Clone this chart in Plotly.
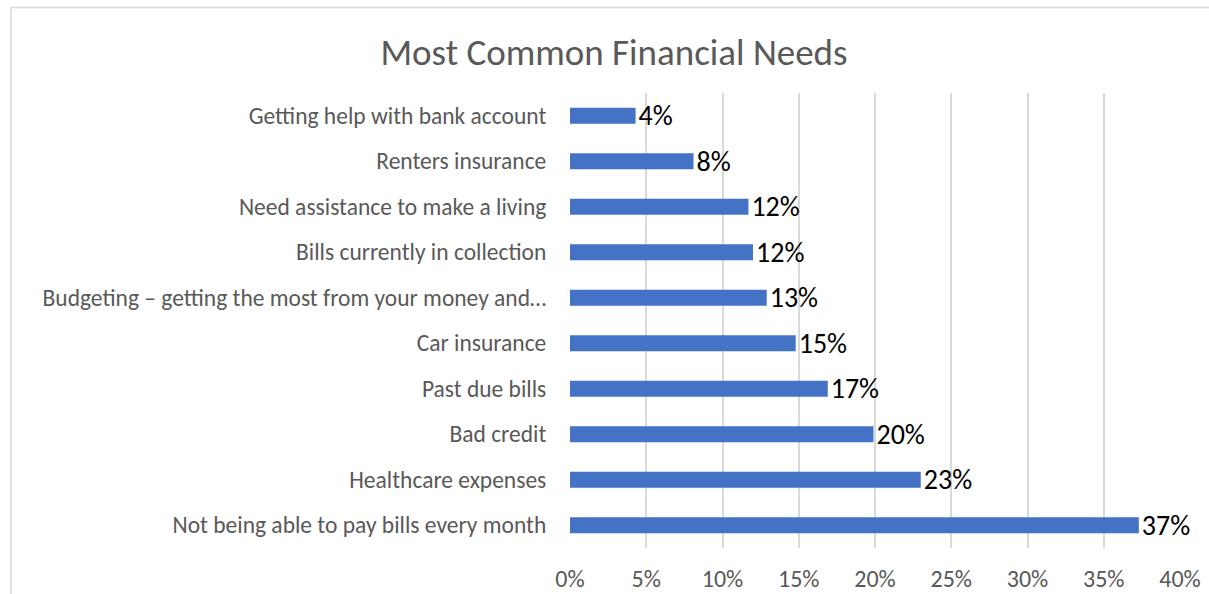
import plotly.graph_objects as go

# Survey results: share of respondents naming each financial need
categories = [
    "Not being able to pay bills every month",
    "Healthcare expenses",
    "Bad credit",
    "Past due bills",
    "Car insurance",
    "Budgeting – getting the most from your money and…",
    "Bills currently in collection",
    "Need assistance to make a living",
    "Renters insurance",
    "Getting help with bank account",
]
shares = [0.373, 0.230, 0.199, 0.169, 0.148, 0.129, 0.120, 0.117, 0.081, 0.043]

tick_vals = [0, 0.05, 0.10, 0.15, 0.20, 0.25, 0.30, 0.35, 0.40]
tick_text = ["0%", "5%", "10%", "15%", "20%", "25%", "30%", "35%", "40%"]

W, H = 1209, 594
ML, MR, MT, MB = 570, 29, 93, 46
PW, PH = W - ML - MR, H - MT - MB

def px_x(x):
    return (x - ML) / PW

def px_y(y):
    return (H - MB - y) / PH

FONT = "Carlito, Lato, Calibri, sans-serif"
GREY = "#595959"

fig = go.Figure(
    go.Bar(
        x=shares,
        y=categories,
        orientation="h",
        marker=dict(color="#4472C4", line=dict(width=0)),
        texttemplate="%{x:.0%}",
        textposition="outside",
        constraintext="none",
        textfont=dict(family=FONT, size=28, color="#000000"),
        cliponaxis=False,
    )
)

fig.update_layout(
    width=W,
    height=H,
    margin=dict(l=ML, r=MR, t=MT, b=MB, autoexpand=False),
    paper_bgcolor="white",
    plot_bgcolor="white",
    bargap=0.65,
    showlegend=False,
    title=dict(
        text="Most Common Financial Needs",
        x=px_x(614), xref="paper", xanchor="center",
        y=1 - 52 / H, yanchor="middle",
        font=dict(family=FONT, size=37, color=GREY),
    ),
    xaxis=dict(
        range=[0, 0.40],
        tickvals=tick_vals,
        ticktext=tick_text,
        showgrid=True,
        gridcolor="#d9d9d9",
        gridwidth=1.5,
        zeroline=False,
        showline=False,
        ticks="outside",
        ticklen=9,
        tickcolor="rgba(0,0,0,0)",
        tickfont=dict(family=FONT, size=24, color=GREY),
        automargin=False,
    ),
    yaxis=dict(
        categoryorder="array",
        categoryarray=categories,
        showgrid=False,
        zeroline=False,
        showline=False,
        ticks="outside",
        ticklen=18,
        tickcolor="rgba(0,0,0,0)",
        tickfont=dict(family=FONT, size=23.5, color=GREY),
        automargin=False,
    ),
    shapes=[
        dict(type="line", xref="paper", yref="paper",
             x0=px_x(11), x1=px_x(11), y0=px_y(H + 5), y1=px_y(7.5),
             line=dict(color="#d9d9d9", width=1.5)),
        dict(type="line", xref="paper", yref="paper",
             x0=px_x(11), x1=px_x(W + 5), y0=px_y(7.5), y1=px_y(7.5),
             line=dict(color="#d9d9d9", width=1.5)),
    ],
    annotations=[
        dict(text="<b>Figure 5: Most Common Financial Needs</b>",
             xref="paper", yref="paper", x=px_x(8), y=px_y(-10),
             xanchor="left", yanchor="middle", showarrow=False,
             font=dict(family=FONT, size=20, color="#000000")),
    ],
)

fig.write_html("out.html")
